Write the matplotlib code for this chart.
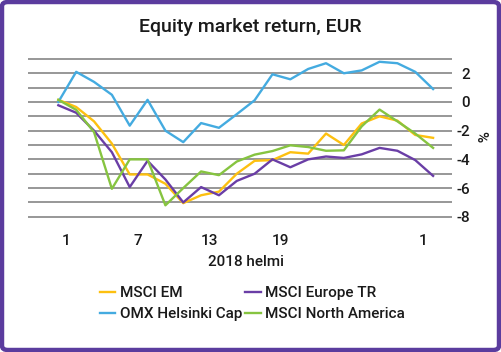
import matplotlib.pyplot as plt
from matplotlib.patches import FancyBboxPatch

plt.rcParams['font.family'] = ['Roboto', 'DejaVu Sans']
plt.rcParams['font.weight'] = 'medium'

# trading days, Feb 1 - Mar 2 2018
days = ['1.2', '2.2', '5.2', '6.2', '7.2', '8.2', '9.2', '12.2', '13.2', '14.2', '15.2',
        '16.2', '19.2', '20.2', '21.2', '22.2', '23.2', '26.2', '27.2', '28.2', '1.3', '2.3']

msci_em = [0.15, -0.35, -1.35, -2.9, -5.05, -5.05, -5.7, -7.05, -6.5, -6.25, -5.0,
           -4.1, -4.05, -3.5, -3.6, -2.2, -3.0, -1.5, -1.0, -1.3, -2.3, -2.5]
msci_europe = [-0.23, -0.75, -2.0, -3.5, -5.93, -4.1, -5.4, -7.0, -5.93, -6.5, -5.5,
               -5.0, -4.0, -4.55, -4.0, -3.8, -3.9, -3.65, -3.2, -3.4, -4.05, -5.15]
omx_helsinki = [0.0, 2.1, 1.4, 0.5, -1.65, 0.15, -2.0, -2.8, -1.47, -1.8, -0.85,
                0.12, 1.93, 1.58, 2.3, 2.7, 2.0, 2.2, 2.8, 2.7, 2.1, 0.9]
msci_na = [0.15, -0.55, -2.1, -6.05, -4.0, -4.0, -7.2, -6.0, -4.84, -5.1, -4.15,
           -3.67, -3.42, -3.02, -3.14, -3.4, -3.37, -1.7, -0.53, -1.35, -2.2, -3.2]

tick_idx = [0, 4, 8, 12, 20]
tick_labels = ['1', '7', '13', '19', '1']

W, H = 501, 352
fig = plt.figure(figsize=(W / 100, H / 100), dpi=100)
fig.patch.set_facecolor('white')

# purple rounded frame
frame = FancyBboxPatch((2 / W, 2 / H), 1 - 4 / W, 1 - 4 / H,
                       boxstyle='round,pad=0,rounding_size=0.012',
                       transform=fig.transFigure, facecolor='none',
                       edgecolor='#5b3c9e', linewidth=3.2, zorder=5)
fig.patches.append(frame)

ax = fig.add_axes([28 / W, 1 - 217.5 / H, 424 / W, 159.3 / H])
ax.set_facecolor('none')
x = list(range(len(days)))

ax.plot(x, msci_em, color='#fdc010', lw=1.7, label='MSCI EM')
ax.plot(x, msci_europe, color='#6a3ea6', lw=1.7, label='MSCI Europe TR')
ax.plot(x, omx_helsinki, color='#44abe0', lw=1.7, label='OMX Helsinki Cap')
ax.plot(x, msci_na, color='#86c440', lw=1.7, label='MSCI North America')

ax.set_xlim(-1.7, 22.06)
ax.set_ylim(-8.05, 3.05)

yt = list(range(-8, 4))
ax.set_yticks(yt)
ax.set_yticklabels([str(v) if v % 2 == 0 and v < 3 else '' for v in yt])
ax.yaxis.tick_right()
ax.grid(axis='y', color='#858585', lw=1.2)
ax.set_axisbelow(True)
for lab in ax.get_yticklabels():
    lab.set_horizontalalignment('right')
ax.tick_params(axis='y', length=0, pad=13, labelsize=11, labelcolor='#1a1a1a')

ax.set_xticks([i + 0.45 for i in tick_idx])
ax.set_xticklabels(tick_labels)
ax.tick_params(axis='x', length=0, pad=12, labelsize=11, labelcolor='#1a1a1a')

for s in ax.spines.values():
    s.set_visible(False)

fig.text(250 / W, 1 - 26.5 / H, 'Equity market return, EUR', ha='center', va='center',
         fontsize=14, color='#1a1a1a')
fig.text(246 / W, 1 - 262 / H, '2018 helmi', ha='center', va='center',
         fontsize=11, color='#1a1a1a')
fig.text(480 / W, 1 - 137 / H, '%', ha='center', va='center', rotation=-90,
         fontsize=11, color='#1a1a1a')

h, l = ax.get_legend_handles_labels()
order = [0, 2, 1, 3]
fig.legend([h[i] for i in order], [l[i] for i in order], ncol=2, frameon=False,
           loc='upper left', bbox_to_anchor=(100 / W, 1 - 286 / H),
           fontsize=11, handlelength=1.0, handletextpad=0.3,
           columnspacing=0.2, labelspacing=0.45, borderpad=0, borderaxespad=0,
           labelcolor='#1a1a1a')

fig.savefig('out.png', dpi=100)
